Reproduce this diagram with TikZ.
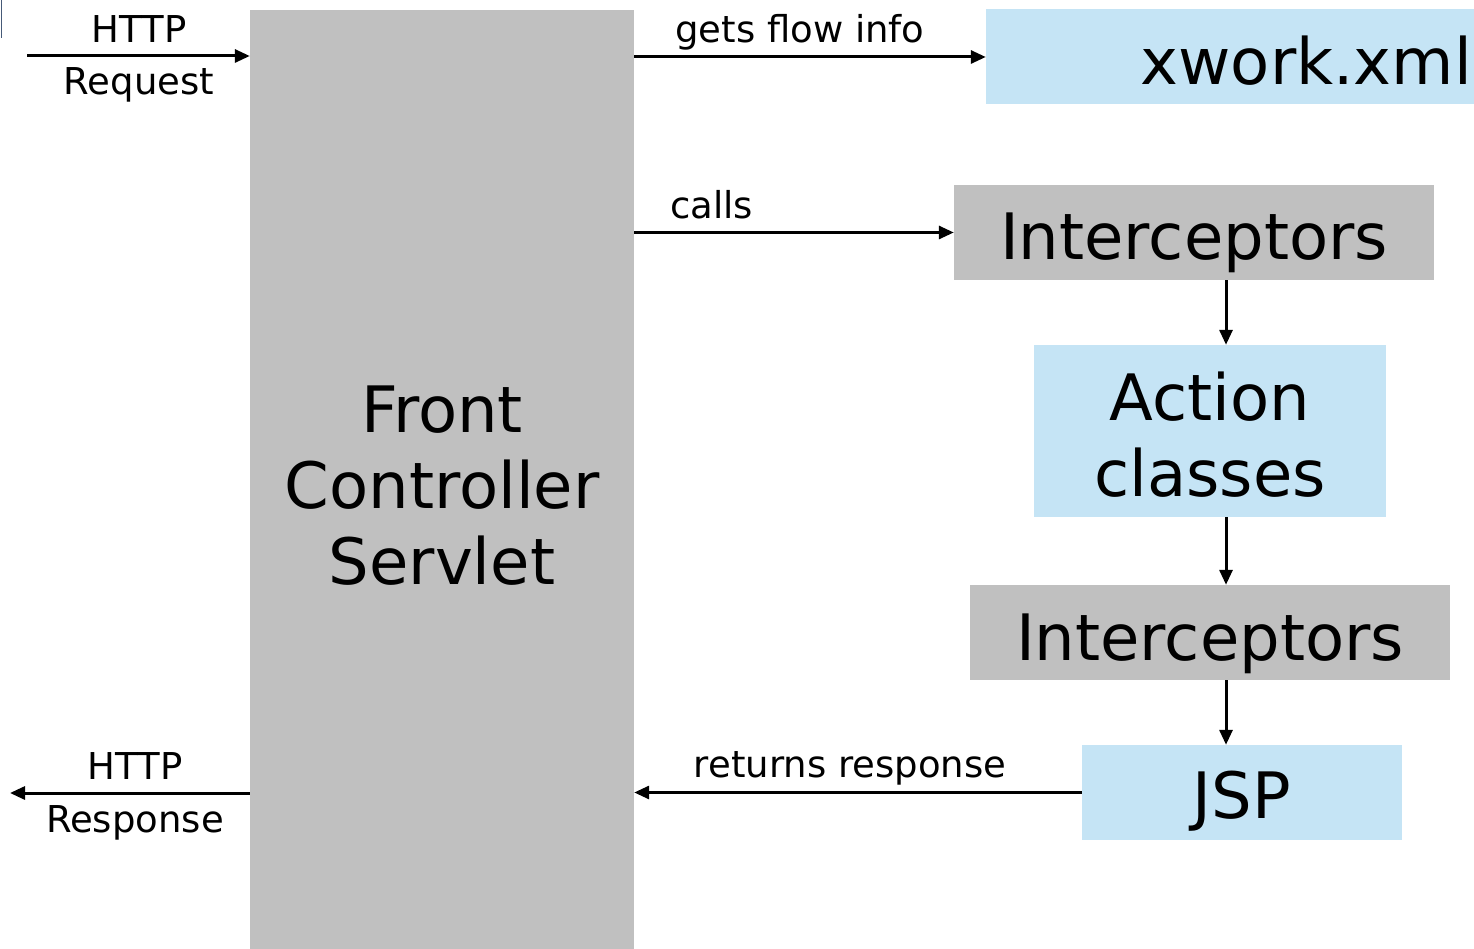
\documentclass[tikz,border=0pt]{standalone}
\usepackage{fontspec}
\setmainfont{DejaVu Sans}
\usetikzlibrary{arrows.meta}

\definecolor{boxgray}{RGB}{192,192,192}
\definecolor{boxblue}{RGB}{197,228,245}
\definecolor{edgeslate}{RGB}{70,90,120}

\tikzset{
  graybox/.style={draw=none, fill=boxgray, inner sep=0pt},
  bluebox/.style={draw=none, fill=boxblue, inner sep=0pt},
  bigtext/.style={inner sep=0pt, anchor=base, font=\fontsize{64}{76}\selectfont},
  smalltext/.style={inner sep=0pt, anchor=base, font=\fontsize{37}{44}\selectfont},
  arr/.style={line width=3pt, -{Triangle[length=15pt, width=13pt]}}
}

\begin{document}
\begin{tikzpicture}[x=1pt, y=-1pt]
\useasboundingbox (0,0) rectangle (1474,949);

% small frame edge at the upper left
\draw[edgeslate, line width=1pt] (1,0) -- (1,38);

% boxes
\node[graybox, minimum width=384pt, minimum height=939pt] (fc)  at (442,479.5) {};
\node[bluebox, minimum width=488pt, minimum height=95pt]  (xml) at (1230,57) {};
\node[graybox, minimum width=480pt, minimum height=95pt]  (ic1) at (1194,232.5) {};
\node[bluebox, minimum width=352pt, minimum height=172pt] (act) at (1210,431) {};
\node[graybox, minimum width=480pt, minimum height=95pt]  (ic2) at (1210,632.5) {};
\node[bluebox, minimum width=320pt, minimum height=95pt]  (jsp) at (1242,792.5) {};

% box texts
\node[bigtext] (fc1) at (442,432) {Front};
\node[bigtext] (fc2) at (442,508) {Controller};
\node[bigtext] (fc3) at (442,584) {Servlet};
\node[bigtext, anchor=base east] (xmlt) at (1472,85) {xwork.xml};
\node[bigtext] (ic1t) at (1194,260) {Interceptors};
\node[bigtext] (act1) at (1210,420) {Action};
\node[bigtext] (act2) at (1210,496) {classes};
\node[bigtext] (ic2t) at (1210,660) {Interceptors};
\node[bigtext] (jspt) at (1242,818) {JSP};

% free ends and the vertical flow line
\coordinate (reqin)   at (27,56);
\coordinate (respout) at (10,793);
\coordinate (vx)      at (1226,0);

% connectors
\draw[arr] (reqin) -- (reqin -| fc.west);
\draw[arr] (fc.east |- xml.west) -- (xml.west);
\draw[arr] (fc.east |- ic1.west) -- (ic1.west);
\draw[arr] (ic1.south -| vx) -- (act.north -| vx);
\draw[arr] (act.south -| vx) -- (ic2.north -| vx);
\draw[arr] (ic2.south -| vx) -- (jsp.north -| vx);
\draw[arr] (jsp.west) -- (jsp.west -| fc.east);
\draw[arr] (fc.west |- respout) -- (respout);

% connector labels
\node[smalltext] (l1a) at (139,43) {HTTP};
\node[smalltext] (l1b) at (139,95) {Request};
\node[smalltext] (l2)  at (800,43) {gets flow info};
\node[smalltext, anchor=base west] (l3) at (670,219) {calls};
\node[smalltext] (l4)  at (850,777) {returns response};
\node[smalltext] (l5a) at (135,779) {HTTP};
\node[smalltext] (l5b) at (135,832) {Response};
\end{tikzpicture}
\end{document}
